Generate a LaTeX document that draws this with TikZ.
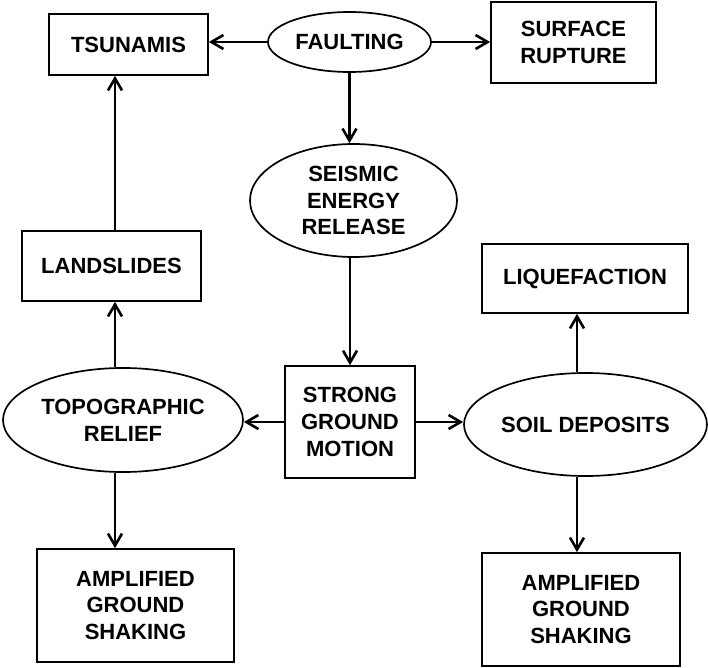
\documentclass[tikz,border=0pt]{standalone}
\usepackage{fontspec}
\setmainfont{Liberation Sans}
\usetikzlibrary{shapes.geometric,arrows.meta}

\begin{document}
\begin{tikzpicture}[x=0.5pt, y=-0.5pt, line width=1.3pt, >={Straight Barb[length=6pt,width=7pt]},
  box node/.style={rectangle,draw,line width=0.85pt,align=center,inner sep=0pt},
  oval node/.style={ellipse,draw,line width=0.85pt,align=center,inner sep=0pt}]
\useasboundingbox (0,0) rectangle (708,668);
\begin{scope}[every node/.style={font=\bfseries\fontsize{11}{13.4}\selectfont}]
\node [box node,minimum width=79.5pt,minimum height=30.5pt](tsu) at (128.5,44.5) {TSUNAMIS};
\node [oval node,minimum width=81.5pt,minimum height=30pt](fault) at (349.5,42) {FAULTING};
\node [box node,minimum width=82.5pt,minimum height=40.5pt](surf) at (573.5,42.5) {SURFACE\\RUPTURE};
\node [oval node,minimum width=103.5pt,minimum height=56.5pt](seis) at (353.5,200.5) {SEISMIC\\ENERGY\\RELEASE};
\node [box node,minimum width=89.5pt,minimum height=35pt](land) at (111.5,266) {LANDSLIDES};
\node [box node,minimum width=103pt,minimum height=34.5pt](liq) at (585,278.5) {LIQUEFACTION};
\node [oval node,minimum width=120pt,minimum height=52pt](topo) at (123,420) {TOPOGRAPHIC\\RELIEF};
\node [box node,minimum width=65pt,minimum height=56pt](strong) at (350,422) {STRONG\\GROUND\\MOTION};
\node [oval node,minimum width=121.5pt,minimum height=51.5pt](soil) at (585.5,424.5) {SOIL DEPOSITS};
\node [box node,minimum width=98.5pt,minimum height=56.5pt](amp1) at (135.5,605.5) {AMPLIFIED\\GROUND\\SHAKING};
\node [box node,minimum width=99pt,minimum height=56.5pt](amp2) at (581,609.5) {AMPLIFIED\\GROUND\\SHAKING};
\end{scope}
\coordinate (colL) at (115,0);
\coordinate (colR) at (577,0);
\path[->]
    (fault.west) edge (tsu.east |- fault.west)
    (fault.east) edge (surf.west |- fault.east)
    (fault) edge (fault |- seis.north)
    (seis.south -| strong) edge (strong.north)
    (strong.west) edge (topo.east |- strong.west)
    (strong.east) edge (soil.west |- strong.east)
    (land.north -| colL) edge (tsu.south -| colL)
    (topo.north -| colL) edge (land.south -| colL)
    (topo.south -| colL) edge (amp1.north -| colL)
    (soil.north -| colR) edge (liq.south -| colR)
    (soil.south -| colR) edge (amp2.north -| colR)
         ;
\end{tikzpicture}
\end{document}
